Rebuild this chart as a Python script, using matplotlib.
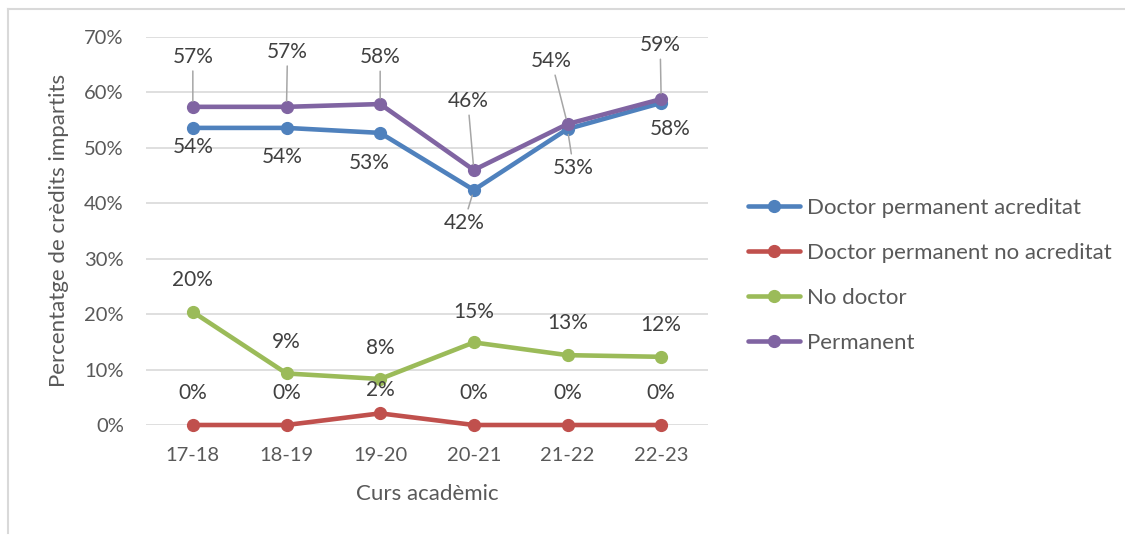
import matplotlib
matplotlib.use("Agg")
import matplotlib.pyplot as plt
from matplotlib.lines import Line2D
from matplotlib.ticker import PercentFormatter

plt.rcParams["font.family"] = ["Lato", "DejaVu Sans"]

# data
cursos = ["17-18", "18-19", "19-20", "20-21", "21-22", "22-23"]
acreditat = [0.536, 0.536, 0.527, 0.424, 0.534, 0.581]
no_acreditat = [0.0, 0.0, 0.021, 0.0, 0.0, 0.0]
no_doctor = [0.204, 0.093, 0.083, 0.149, 0.126, 0.123]
permanent = [0.574, 0.574, 0.579, 0.460, 0.543, 0.588]

BLUE = "#4F81BD"; RED = "#C0504D"; GREEN = "#9BBB59"; PURP = "#8064A2"
TXT = "#595959"; LBL = "#404040"; GRID = "#d9d9d9"; LEAD = "#a6a6a6"

# label offsets (px, y up) and leader flags, per series
series = [
    ("Doctor permanent acreditat", acreditat, BLUE,
     [(0, -19), (-4, -29), (-11, -30), (-10, -33), (6, -39), (9, -26)],
     [False, False, False, True, True, False]),
    ("Doctor permanent no acreditat", no_acreditat, RED,
     [(0, 32), (0, 32), (0, 23), (0, 32), (0, 32), (0, 32)],
     [False] * 6),
    ("No doctor", no_doctor, GREEN,
     [(0, 32), (0, 31), (0, 31), (0, 30), (0, 32), (0, 32)],
     [False] * 6),
    ("Permanent", permanent, PURP,
     [(0, 50), (1, 55), (0, 47), (-6, 69), (-16, 63), (-1, 54)],
     [True] * 6),
]

W, H, DPI = 1125, 535, 100
fig = plt.figure(figsize=(W / DPI, H / DPI), dpi=DPI)
ax = fig.add_axes([146 / W, 1 - 425 / H, 562 / W, 388 / H])

x = list(range(len(cursos)))
for name, vals, col, offs, leads in series:
    ax.plot(x, vals, color=col, lw=3.3, marker="o", ms=8.5, label=name,
            solid_capstyle="round", zorder=3, clip_on=False)

px2pt = 72 / DPI
for name, vals, col, offs, leads in series:
    for xi, v, (dx, dy), ld in zip(x, vals, offs, leads):
        kw = {}
        if ld:
            kw["arrowprops"] = dict(arrowstyle="-", color=LEAD, lw=1.1,
                                    shrinkA=1, shrinkB=4)
        ax.annotate(f"{v * 100:.0f}%", (xi, v),
                    xytext=(dx * px2pt, dy * px2pt), textcoords="offset points",
                    ha="center", va="center", fontsize=15, color=LBL,
                    zorder=4, **kw)

ax.set_xlim(-0.5, len(cursos) - 0.5)
ax.set_ylim(0, 0.7)
ax.set_yticks([i / 10 for i in range(8)])
ax.yaxis.set_major_formatter(PercentFormatter(1.0, decimals=0))
ax.set_xticks(x)
ax.set_xticklabels(cursos)
ax.grid(axis="y", color=GRID, lw=1.2, zorder=0)
for s in ax.spines.values():
    s.set_visible(False)
ax.tick_params(length=0, labelsize=14.5, colors=TXT, pad=16)

ax.set_xlabel("Curs acadèmic", fontsize=16, color=TXT)
ax.xaxis.label.set_va("center")
ax.xaxis.set_label_coords(0.5, (425 - 494) / 388)
ax.set_ylabel("Percentatge de crèdits impartits", fontsize=16, color=TXT)
ax.yaxis.label.set_va("center")
ax.yaxis.set_label_coords((59 - 146) / 562, (425 - 230) / 388)

fig.legend(loc="center left", bbox_to_anchor=(748 / W, 1 - 275.5 / H),
           frameon=False, fontsize=16, labelcolor=TXT, handlelength=2.35,
           handletextpad=0.3, labelspacing=1.12, borderpad=0, borderaxespad=0)

# outer chart border (top and left only visible)
fig.add_artist(Line2D([8 / W, 1], [1 - 8.5 / H] * 2, color=GRID, lw=1.5))
fig.add_artist(Line2D([8 / W] * 2, [1 - 8.5 / H, 0.003], color=GRID, lw=1.5))

fig.savefig("out.png", dpi=DPI)
